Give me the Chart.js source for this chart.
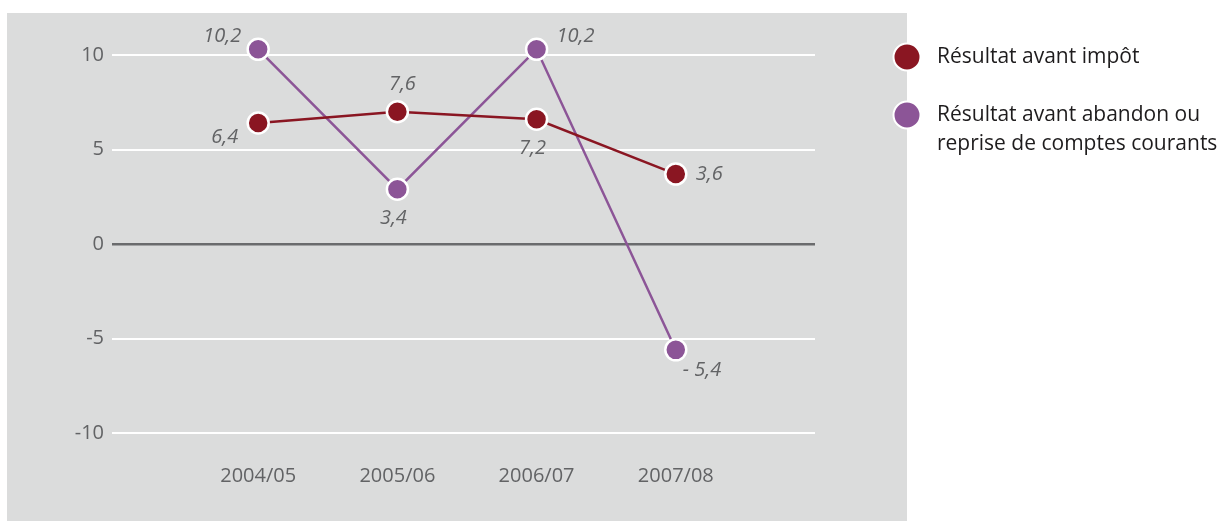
<!DOCTYPE html>
<html>
<head>
<meta charset="utf-8">
<script src="https://cdn.jsdelivr.net/npm/chart.js@4"></script>
<style>
  body { margin: 0; background: #fff; }
  #wrap { position: relative; width: 1221px; height: 521px; }
  #panel { position: absolute; left: 7px; top: 13px; width: 900px; height: 508px; background: #dbdcdc; }
  canvas { position: absolute; left: 0; top: 0; }
</style>
</head>
<body>
<div id="wrap">
  <div id="panel"></div>
  <canvas id="resultChart"></canvas>
</div>
<script>
// categories + values
const years = ['2004/05', '2005/06', '2006/07', '2007/08'];
const avantImpot = [6.4, 7.0, 6.6, 3.7];
const avantImpotText = ['6,4', '7,6', '7,2', '3,6'];
const avantAbandon = [10.3, 2.9, 10.3, -5.6];
const avantAbandonText = ['10,2', '3,4', '10,2', '- 5,4'];
const yTicks = [-10, -5, 0, 5, 10];

const RED = '#8a1622';
const PURPLE = '#8c5597';
const GREY_TXT = '#626365';

// label placement around each point
const placements = [
  ['left-below', 'above', 'below', 'right'],
  ['left-above', 'below', 'right-above', 'right-below']
];

const toPoints = (vals) => vals.map((v, i) => ({ x: i, y: v }));

const pointLabels = {
  id: 'pointLabels',
  afterDatasetsDraw(chart) {
    const ctx = chart.ctx;
    const texts = [avantImpotText, avantAbandonText];
    ctx.save();
    ctx.font = 'italic 20px "Open Sans"';
    ctx.fillStyle = GREY_TXT;
    ctx.textBaseline = 'middle';
    chart.data.datasets.forEach((ds, di) => {
      chart.getDatasetMeta(di).data.forEach((pt, i) => {
        const where = placements[di][i];
        let x = pt.x, y = pt.y;
        if (where === 'left-below') { ctx.textAlign = 'right'; x -= 20; y += 14; }
        if (where === 'left-above') { ctx.textAlign = 'right'; x -= 17; y -= 13; }
        if (where === 'above') { ctx.textAlign = 'center'; x += 5; y -= 27; }
        if (where === 'below') { ctx.textAlign = 'center'; x -= 4; y += 29; }
        if (where === 'right') { ctx.textAlign = 'left'; x += 20; }
        if (where === 'right-above') { ctx.textAlign = 'left'; x += 20; y -= 13; }
        if (where === 'right-below') { ctx.textAlign = 'left'; x += 7; y += 20; }
        ctx.fillText(texts[di][i], x, y);
      });
    });
    ctx.restore();
  }
};

const sideLegend = {
  id: 'sideLegend',
  afterDraw(chart) {
    const ctx = chart.ctx;
    const rows = [
      { color: RED, lines: ['Résultat avant impôt'], y: 57 },
      { color: PURPLE, lines: ['Résultat avant abandon ou', 'reprise de comptes courants'], y: 115 }
    ];
    ctx.save();
    rows.forEach(r => {
      ctx.beginPath();
      ctx.arc(907, r.y, 13.5, 0, Math.PI * 2);
      ctx.fillStyle = r.color;
      ctx.fill();
      ctx.lineWidth = 2;
      ctx.strokeStyle = '#fff';
      ctx.stroke();
      ctx.fillStyle = '#1e1c1d';
      ctx.font = '21px "Open Sans"';
      ctx.textAlign = 'left';
      ctx.textBaseline = 'middle';
      r.lines.forEach((t, k) => ctx.fillText(t, 937, r.y + k * 29));
    });
    ctx.restore();
  }
};

new Chart(document.getElementById('resultChart'), {
  type: 'line',
  data: {
    datasets: [
      {
        label: 'Résultat avant impôt',
        data: toPoints(avantImpot),
        borderColor: RED,
        backgroundColor: RED,
        borderWidth: 2.5,
        pointRadius: 10.5,
        pointBorderColor: '#fff',
        pointBorderWidth: 2.5,
        pointBackgroundColor: RED,
        clip: false
      },
      {
        label: 'Résultat avant abandon ou reprise de comptes courants',
        data: toPoints(avantAbandon),
        borderColor: PURPLE,
        backgroundColor: PURPLE,
        borderWidth: 2.5,
        pointRadius: 10.5,
        pointBorderColor: '#fff',
        pointBorderWidth: 2.5,
        pointBackgroundColor: PURPLE,
        clip: false
      }
    ]
  },
  options: {
    responsive: true,
    maintainAspectRatio: false,
    animation: false,
    layout: { padding: { top: 55, right: 406, bottom: 10, left: 0 } },
    plugins: { legend: { display: false }, tooltip: { enabled: false } },
    scales: {
      x: {
        type: 'linear',
        min: -1.05,
        max: 4,
        afterBuildTicks: (scale) => { scale.ticks = years.map((_, i) => ({ value: i })); },
        ticks: {
          callback: (v) => years[v] || '',
          color: GREY_TXT,
          font: { family: 'Open Sans', size: 20 },
          padding: 23,
          maxRotation: 0
        },
        grid: { display: false },
        border: { display: false }
      },
      y: {
        min: -10,
        max: 10,
        afterBuildTicks: (scale) => { scale.ticks = yTicks.map(v => ({ value: v })); },
        afterFit: (scale) => { scale.width = 112; },
        ticks: {
          color: GREY_TXT,
          font: { family: 'Open Sans', size: 20 },
          padding: 8
        },
        grid: {
          color: (c) => c.tick && c.tick.value === 0 ? '#6a6b6d' : '#ffffff',
          lineWidth: (c) => c.tick && c.tick.value === 0 ? 2.5 : 2,
          drawTicks: false
        },
        border: { display: false }
      }
    }
  },
  plugins: [pointLabels, sideLegend]
});
</script>
</body>
</html>
